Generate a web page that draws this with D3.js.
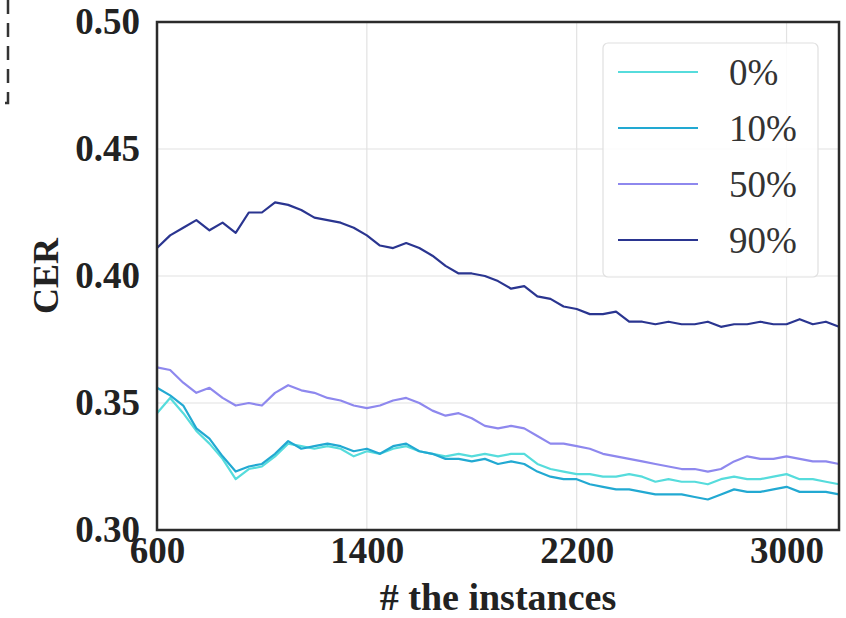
<!DOCTYPE html>
<html>
<head>
<meta charset="utf-8">
<script src="https://cdn.jsdelivr.net/npm/d3@7"></script>
<style>
  body { margin: 0; background: #fff; }
  svg { display: block; }
</style>
</head>
<body>
<div id="chart"></div>
<script>
// instances (x), one value every 50
const instances = d3.range(600, 3201, 50);

const seriesNames = ['0%', '10%', '50%', '90%'];
const seriesColors = ['#56dcdc', '#22a9d2', '#8e88ee', '#2a3590'];

const cer0 = [0.346, 0.352, 0.346, 0.339, 0.334, 0.328, 0.320, 0.324, 0.325, 0.329,
  0.334, 0.333, 0.332, 0.333, 0.332, 0.329, 0.331, 0.330, 0.332, 0.333,
  0.331, 0.330, 0.329, 0.330, 0.329, 0.330, 0.329, 0.330, 0.330, 0.326,
  0.324, 0.323, 0.322, 0.322, 0.321, 0.321, 0.322, 0.321, 0.319, 0.320,
  0.319, 0.319, 0.318, 0.320, 0.321, 0.320, 0.320, 0.321, 0.322, 0.320,
  0.320, 0.319, 0.318];

const cer10 = [0.356, 0.353, 0.349, 0.340, 0.336, 0.329, 0.323, 0.325, 0.326, 0.330,
  0.335, 0.332, 0.333, 0.334, 0.333, 0.331, 0.332, 0.330, 0.333, 0.334,
  0.331, 0.330, 0.328, 0.328, 0.327, 0.328, 0.326, 0.327, 0.326, 0.323,
  0.321, 0.320, 0.320, 0.318, 0.317, 0.316, 0.316, 0.315, 0.314, 0.314,
  0.314, 0.313, 0.312, 0.314, 0.316, 0.315, 0.315, 0.316, 0.317, 0.315,
  0.315, 0.315, 0.314];

const cer50 = [0.364, 0.363, 0.358, 0.354, 0.356, 0.352, 0.349, 0.350, 0.349, 0.354,
  0.357, 0.355, 0.354, 0.352, 0.351, 0.349, 0.348, 0.349, 0.351, 0.352,
  0.350, 0.347, 0.345, 0.346, 0.344, 0.341, 0.340, 0.341, 0.340, 0.337,
  0.334, 0.334, 0.333, 0.332, 0.330, 0.329, 0.328, 0.327, 0.326, 0.325,
  0.324, 0.324, 0.323, 0.324, 0.327, 0.329, 0.328, 0.328, 0.329, 0.328,
  0.327, 0.327, 0.326];

const cer90 = [0.411, 0.416, 0.419, 0.422, 0.418, 0.421, 0.417, 0.425, 0.425, 0.429,
  0.428, 0.426, 0.423, 0.422, 0.421, 0.419, 0.416, 0.412, 0.411, 0.413,
  0.411, 0.408, 0.404, 0.401, 0.401, 0.400, 0.398, 0.395, 0.396, 0.392,
  0.391, 0.388, 0.387, 0.385, 0.385, 0.386, 0.382, 0.382, 0.381, 0.382,
  0.381, 0.381, 0.382, 0.380, 0.381, 0.381, 0.382, 0.381, 0.381, 0.383,
  0.381, 0.382, 0.380];

const xTicks = [600, 1400, 2200, 3000];
const yTicks = [0.30, 0.35, 0.40, 0.45, 0.50];

const width = 846, height = 618;
const margin = { top: 22, right: 7, bottom: 88, left: 157 };
const serif = '"Liberation Serif", "Times New Roman", serif';

const svg = d3.select('#chart').append('svg')
    .attr('width', width)
    .attr('height', height);

const x = d3.scaleLinear().domain([600, 3200]).range([margin.left, width - margin.right]);
const y = d3.scaleLinear().domain([0.30, 0.50]).range([height - margin.bottom, margin.top]);

// leftover dashed box from the neighbouring panel
svg.append('path')
    .attr('d', 'M8,0 V103 H2')
    .attr('fill', 'none')
    .attr('stroke', '#333')
    .attr('stroke-width', 2.5)
    .attr('stroke-dasharray', '14,9');

// grid
svg.append('g')
    .selectAll('line')
    .data(xTicks)
    .enter().append('line')
    .attr('x1', d => x(d)).attr('x2', d => x(d))
    .attr('y1', margin.top).attr('y2', height - margin.bottom)
    .attr('stroke', '#e2e2e2')
    .attr('stroke-width', 1.2);

svg.append('g')
    .selectAll('line')
    .data(yTicks)
    .enter().append('line')
    .attr('x1', margin.left).attr('x2', width - margin.right)
    .attr('y1', d => y(d)).attr('y2', d => y(d))
    .attr('stroke', '#e2e2e2')
    .attr('stroke-width', 1.2);

// lines
const allSeries = [cer0, cer10, cer50, cer90];
const line = d3.line()
    .x((d, i) => x(instances[i]))
    .y(d => y(d));

svg.append('g')
    .selectAll('path')
    .data(allSeries)
    .enter().append('path')
    .attr('d', d => line(d))
    .attr('fill', 'none')
    .attr('stroke', (d, i) => seriesColors[i])
    .attr('stroke-width', 2.2)
    .attr('stroke-linejoin', 'round');

// axes (no tick marks, bold serif labels)
const xAxis = svg.append('g')
    .attr('transform', `translate(0,${height - margin.bottom})`)
    .call(d3.axisBottom(x).tickValues(xTicks).tickSize(0).tickPadding(7).tickFormat(d3.format('d')));
const yAxis = svg.append('g')
    .attr('transform', `translate(${margin.left},0)`)
    .call(d3.axisLeft(y).tickValues(yTicks).tickSize(0).tickPadding(17).tickFormat(d3.format('.2f')));

[xAxis, yAxis].forEach(a => {
    a.select('.domain').remove();
    a.selectAll('text')
        .attr('font-family', serif)
        .attr('font-weight', 'bold')
        .attr('font-size', 37)
        .attr('fill', '#222');
});

// frame
svg.append('rect')
    .attr('x', margin.left)
    .attr('y', margin.top)
    .attr('width', width - margin.left - margin.right)
    .attr('height', height - margin.top - margin.bottom)
    .attr('fill', 'none')
    .attr('stroke', '#2b2b2b')
    .attr('stroke-width', 2.5);

// axis titles
svg.append('text')
    .attr('x', (margin.left + width - margin.right) / 2)
    .attr('y', 610)
    .attr('text-anchor', 'middle')
    .attr('font-family', serif)
    .attr('font-weight', 'bold')
    .attr('font-size', 38)
    .attr('fill', '#222')
    .text('# the instances');

svg.append('text')
    .attr('transform', `translate(58,${y(0.40)}) rotate(-90)`)
    .attr('text-anchor', 'middle')
    .attr('font-family', serif)
    .attr('font-weight', 'bold')
    .attr('font-size', 36)
    .attr('fill', '#222')
    .text('CER');

// legend
const legend = svg.append('g').attr('transform', 'translate(603,43)');
legend.append('rect')
    .attr('width', 215)
    .attr('height', 234)
    .attr('rx', 5)
    .attr('fill', '#fff')
    .attr('fill-opacity', 0.85)
    .attr('stroke', '#e0e0e0')
    .attr('stroke-width', 1.2);

const item = legend.selectAll('g.item')
    .data(seriesNames)
    .enter().append('g')
    .attr('class', 'item')
    .attr('transform', (d, i) => `translate(0,${29 + i * 56})`);

item.append('line')
    .attr('x1', 15).attr('x2', 95)
    .attr('stroke', (d, i) => seriesColors[i])
    .attr('stroke-width', 2);

item.append('text')
    .attr('x', 126)
    .attr('dy', '0.35em')
    .attr('font-family', serif)
    .attr('font-size', 37)
    .attr('fill', '#333')
    .text(d => d);
</script>
</body>
</html>
